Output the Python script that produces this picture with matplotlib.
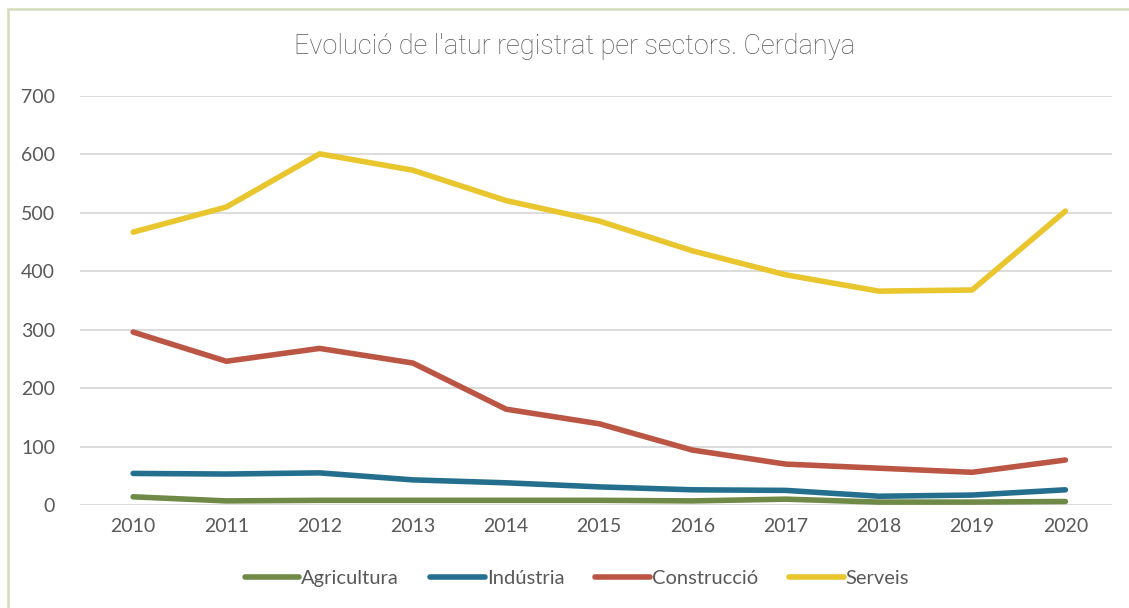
import matplotlib
matplotlib.use("Agg")
import matplotlib.pyplot as plt
from matplotlib.patches import Rectangle

years = [2010, 2011, 2012, 2013, 2014, 2015, 2016, 2017, 2018, 2019, 2020]
agricultura = [14, 7, 8, 8, 8, 8, 7, 10, 5, 5, 6]
industria = [54, 53, 55, 43, 38, 31, 26, 25, 15, 17, 26]
construccio = [296, 246, 268, 243, 164, 139, 94, 70, 63, 56, 77]
serveis = [467, 510, 601, 573, 521, 486, 435, 394, 366, 368, 503]
yticks = [0, 100, 200, 300, 400, 500, 600, 700]

plt.rcParams['font.family'] = ['Lato', 'DejaVu Sans']
W, H = 1129, 608
fig = plt.figure(figsize=(W / 100, H / 100), dpi=100)
fig.patch.set_facecolor('white')

fig.patches.append(Rectangle((8 / W, -0.05), 1.2, 1 - 9 / H + 0.05,
                             transform=fig.transFigure, fill=False,
                             edgecolor='#d3dcb8', linewidth=1.8))

ax = fig.add_axes([80 / W, 1 - 505 / H, (1112 - 80) / W, (505 - 96) / H])
series = [("Agricultura", agricultura, '#6f8a47'),
          ("Indústria", industria, '#246f8e'),
          ("Construcció", construccio, '#bb5645'),
          ("Serveis", serveis, '#e9c62e')]
for name, vals, col in series:
    ax.plot(years, vals, color=col, lw=4.0, solid_capstyle='round',
            solid_joinstyle='round', label=name, zorder=3)

ax.set_ylim(0, 700)
ax.set_xlim(2009.43, 2020.5)
ax.set_yticks(yticks)
ax.set_xticks(years)
ax.set_xticklabels([str(y) for y in years])
ax.grid(axis='y', color='#d9d9d9', lw=1.3, zorder=0)
for s in ax.spines.values():
    s.set_visible(False)
ax.tick_params(length=0, labelsize=14, labelcolor='#595959')
ax.tick_params(axis='y', pad=18)
ax.tick_params(axis='x', pad=9)

fig.text(575 / W, 1 - 46 / H, "Evolució de l'atur registrat per sectors. Cerdanya",
         ha='center', va='center', fontsize=19.5, color='#595959',
         family=['Roboto', 'DejaVu Sans'], fontweight='light')

leg = fig.legend(loc='center', bbox_to_anchor=(577 / W, 1 - 578 / H), ncol=4,
                 frameon=False, fontsize=14.5, handlelength=2.7,
                 handletextpad=0.1, columnspacing=1.55)
for t in leg.get_texts():
    t.set_color('#595959')

fig.savefig('out.png', dpi=100)
